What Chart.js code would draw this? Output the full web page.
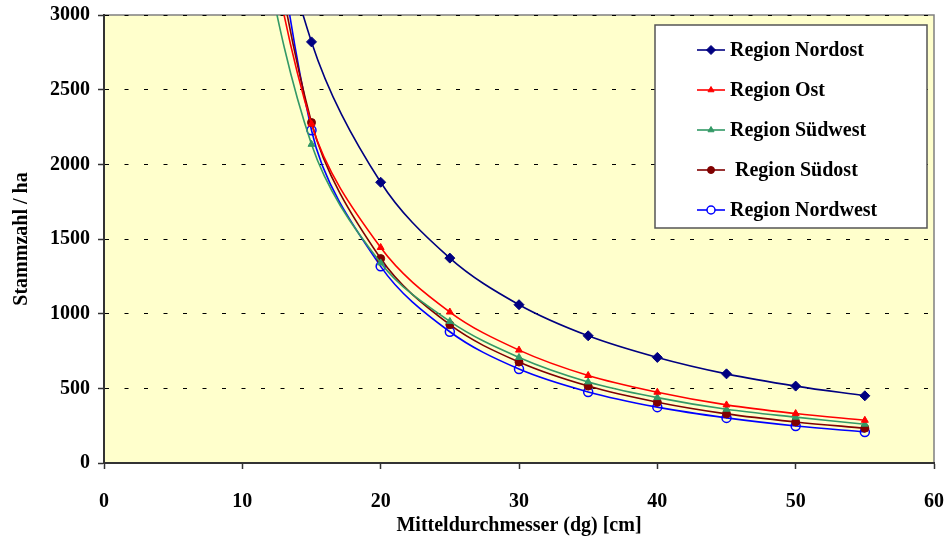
<!DOCTYPE html>
<html lang="de">
<head>
<meta charset="utf-8">
<title>Stammzahl / ha nach Mitteldurchmesser</title>
<script src="https://cdn.jsdelivr.net/npm/chart.js@4.4.1/dist/chart.umd.min.js"></script>
<style>
    html, body { margin: 0; padding: 0; background: #fff; }
    #wrap { width: 947px; height: 547px; }
</style>
</head>
<body>
<div id="wrap"><canvas id="grafico-stammzahl" width="947" height="547"></canvas></div>
<script>
// --- Daten ---
const durchmesser = [10, 15, 20, 25, 30, 35, 40, 45, 50, 55];
const regionNordost  = [4700, 2820, 1880, 1372, 1060, 852, 707, 597, 515, 450];
const regionOst      = [4500, 2270, 1443, 1011, 756, 586, 474, 389, 331, 286];
const regionSuedwest = [4100, 2134, 1340, 948, 707, 543, 438, 360, 307, 260];
const regionSuedost  = [4850, 2280, 1369, 926, 676, 515, 407, 329, 275, 233];
const regionNordwest = [5500, 2228, 1317, 879, 629, 476, 374, 302, 248, 208];
const xTicks = [0, 10, 20, 30, 40, 50, 60];
const yTicks = [0, 500, 1000, 1500, 2000, 2500, 3000];

const FONT = 'Liberation Serif, "Times New Roman", serif';

function punkte(werte) {
    return werte.map((y, i) => ({ x: durchmesser[i], y: y }));
}

function serie(label, werte, farbe, stil, radius, fuellung) {
    return {
        label: label,
        data: punkte(werte),
        borderColor: farbe,
        backgroundColor: farbe,
        borderWidth: 1.6,
        pointStyle: stil,
        pointRadius: radius,
        pointBorderWidth: fuellung ? 1 : 1.5,
        pointBackgroundColor: fuellung ? farbe : 'rgba(0,0,0,0)',
        pointBorderColor: farbe,
        tension: 0.35,
        capBezierPoints: false,
        clip: 0,
        showLine: true
    };
}

// Hintergrund der Zeichenfläche + grauer Rahmen oben/rechts
const plotHintergrund = {
    id: 'plotHintergrund',
    beforeDraw(chart) {
        const { ctx, chartArea: a } = chart;
        ctx.save();
        ctx.fillStyle = '#FFFFCC';
        ctx.fillRect(a.left, a.top, a.right - a.left, a.bottom - a.top);
        ctx.strokeStyle = '#808080';
        ctx.lineWidth = 1.5;
        ctx.beginPath();
        ctx.moveTo(a.left, a.top);
        ctx.lineTo(a.right, a.top);
        ctx.lineTo(a.right, a.bottom);
        ctx.stroke();
        ctx.restore();
    }
};

// Legende als Kasten mit Linie + Marker
const legendenKasten = {
    id: 'legendenKasten',
    afterDraw(chart) {
        const ctx = chart.ctx;
        const box = { x: 655, y: 25, w: 272, h: 203 };
        ctx.save();
        ctx.fillStyle = '#FFFFFF';
        ctx.fillRect(box.x, box.y, box.w, box.h);
        ctx.strokeStyle = '#555555';
        ctx.lineWidth = 1.5;
        ctx.strokeRect(box.x, box.y, box.w, box.h);
        chart.data.datasets.forEach((ds, i) => {
            const y = 50 + i * 40;
            ctx.strokeStyle = ds.borderColor;
            ctx.lineWidth = ds.borderWidth;
            ctx.beginPath();
            ctx.moveTo(697, y);
            ctx.lineTo(725, y);
            ctx.stroke();
            ctx.fillStyle = ds.pointBackgroundColor === 'rgba(0,0,0,0)' ? '#FFFFFF' : ds.pointBackgroundColor;
            ctx.strokeStyle = ds.pointBorderColor;
            ctx.lineWidth = ds.pointBorderWidth;
            Chart.helpers.drawPoint(ctx, {
                pointStyle: ds.pointStyle,
                radius: ds.pointRadius - 0.5,
                borderWidth: ds.pointBorderWidth,
                rotation: 0
            }, 711, y);
            ctx.fillStyle = '#000000';
            ctx.font = 'bold 20px ' + FONT;
            ctx.textBaseline = 'middle';
            ctx.textAlign = 'left';
            ctx.fillText(ds.label, 730, y + 1);
        });
        ctx.restore();
    }
};

const ctx = document.getElementById('grafico-stammzahl').getContext('2d');
new Chart(ctx, {
    type: 'scatter',
    data: {
        datasets: [
            serie('Region Nordost', regionNordost, '#000080', 'rectRot', 5, true),
            serie('Region Ost', regionOst, '#FF0000', 'triangle', 4, true),
            serie('Region Südwest', regionSuedwest, '#339966', 'triangle', 4, true),
            serie(' Region Südost', regionSuedost, '#800000', 'circle', 4, true),
            serie('Region Nordwest', regionNordwest, '#0000FF', 'circle', 4.5, false)
        ]
    },
    options: {
        responsive: false,
        animation: false,
        layout: { padding: { top: 15, right: 13, left: 0, bottom: 0 } },
        plugins: {
            legend: { display: false },
            tooltip: { enabled: false }
        },
        scales: {
            x: {
                type: 'linear',
                min: 0,
                max: 60,
                afterFit: function(scale) {
                    scale.height = 84;
                    scale.paddingLeft = 0;
                    scale.paddingRight = 0;
                },
                afterBuildTicks: function(scale) { scale.ticks = xTicks.map(v => ({ value: v })); },
                grid: { drawOnChartArea: false, drawTicks: true, tickLength: 6, tickColor: '#333333', tickWidth: 1.5 },
                border: { display: true, color: '#333333', width: 2 },
                ticks: {
                    color: '#000', padding: 21,
                    font: { family: FONT, size: 20, weight: 'bold' },
                    callback: v => String(v)
                },
                title: {
                    display: true,
                    text: 'Mitteldurchmesser (dg) [cm]',
                    color: '#000',
                    font: { family: FONT, size: 20, weight: 'bold' },
                    padding: { top: 0, bottom: 9 }
                }
            },
            y: {
                type: 'linear',
                min: 0,
                max: 3000,
                afterFit: function(scale) {
                    scale.width = 104;
                    scale.paddingTop = 0;
                    scale.paddingBottom = 0;
                },
                afterBuildTicks: function(scale) { scale.ticks = yTicks.map(v => ({ value: v })); },
                grid: { color: '#000000', lineWidth: 1, drawTicks: true, tickLength: 6, tickColor: '#333333', tickWidth: 1.5 },
                border: { display: true, color: '#333333', width: 2, dash: [4, 15.5], dashOffset: 0 },
                ticks: {
                    color: '#000', padding: 8,
                    font: { family: FONT, size: 20, weight: 'bold' },
                    callback: v => String(v)
                },
                title: {
                    display: true,
                    text: 'Stammzahl / ha',
                    color: '#000',
                    font: { family: FONT, size: 20, weight: 'bold' },
                    padding: { top: 10, bottom: 0 }
                }
            }
        }
    },
    plugins: [plotHintergrund, legendenKasten]
});
</script>
</body>
</html>
